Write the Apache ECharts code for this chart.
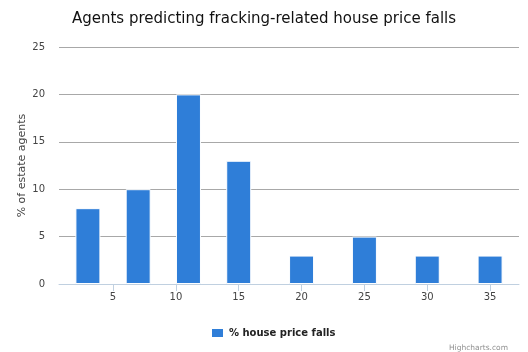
<!DOCTYPE html>
<html>
<head>
<meta charset="utf-8">
<script src="https://cdn.jsdelivr.net/npm/echarts@6/dist/echarts.min.js"></script>
<style>
html,body{margin:0;padding:0;background:#fff;}
#chart{width:528px;height:352px;}
</style>
</head>
<body>
<div id="chart"></div>
<script>
var titleText = 'Agents predicting fracking-related house price falls';
var seriesName = '% house price falls';
var yAxisTitle = '% of estate agents';
var xValues = [3, 7, 11, 15, 20, 25, 30, 35];
var yValues = [8, 10, 20, 13, 3, 5, 3, 3];
var xTicks = [5, 10, 15, 20, 25, 30, 35];

var chart = echarts.init(document.getElementById('chart'));
var fontFam = '"DejaVu Sans", "Lucida Grande", Verdana, sans-serif';
chart.setOption({
  animation: false,
  backgroundColor: '#ffffff',
  title: {
    text: titleText,
    left: 'center',
    top: 7,
    textStyle: {fontFamily: fontFam, fontSize: 15, fontWeight: 'normal', color: '#111'}
  },
  grid: {left: 59, right: 9, top: 47, bottom: 68, containLabel: false},
  legend: {
    data: [seriesName],
    left: 205,
    top: 322,
    icon: 'rect',
    itemWidth: 13,
    itemHeight: 10,
    itemGap: 6,
    textStyle: {fontFamily: fontFam, fontSize: 10, fontWeight: 'bold', color: '#222'}
  },
  xAxis: {
    type: 'value',
    min: 0.7,
    max: 37.3,
    splitLine: {show: false},
    axisLine: {show: true, lineStyle: {color: '#C0D0E0', width: 1}},
    axisTick: {show: true, customValues: xTicks, length: 7, lineStyle: {color: '#C0D0E0'}},
    axisLabel: {customValues: xTicks, margin: 8, fontFamily: fontFam, fontSize: 10, color: '#444'}
  },
  yAxis: {
    type: 'value',
    min: 0,
    max: 25,
    interval: 5,
    name: yAxisTitle,
    nameLocation: 'middle',
    nameGap: 31,
    nameMoveOverlap: false,
    nameTextStyle: {fontFamily: fontFam, fontSize: 11, color: '#444'},
    axisLine: {show: false},
    axisTick: {show: false},
    axisLabel: {margin: 14, fontFamily: fontFam, fontSize: 10, color: '#444'},
    splitLine: {show: true, lineStyle: {color: '#a8a8a8', width: 1}}
  },
  series: [{
    name: seriesName,
    type: 'bar',
    barWidth: 25,
    data: xValues.map(function (x, i) { return [x, yValues[i]]; }),
    itemStyle: {color: '#2f7ed8', borderColor: '#ffffff', borderWidth: 1}
  }],
  graphic: [{
    type: 'text',
    right: 20,
    top: 344,
    style: {text: 'Highcharts.com', font: '7.5px ' + fontFam, fill: '#909090'}
  }]
});
</script>
</body>
</html>
